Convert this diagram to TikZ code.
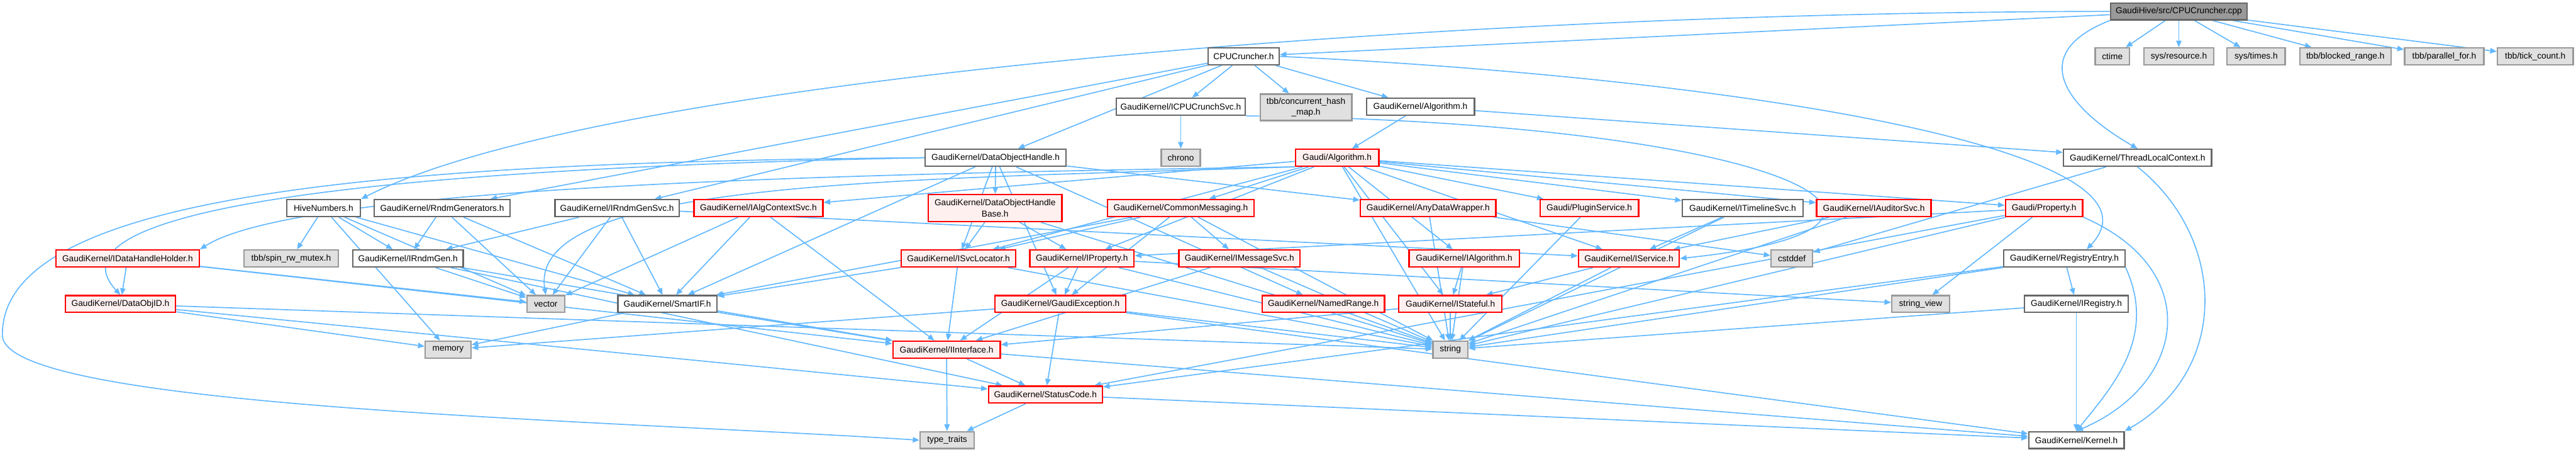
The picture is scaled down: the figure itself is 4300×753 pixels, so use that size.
\documentclass[tikz,border=0pt]{standalone}
\usepackage{fontspec}
\setmainfont{Liberation Sans}
\usetikzlibrary{arrows.meta,backgrounds}
\definecolor{edgeblue}{HTML}{63B8FF}
\definecolor{redline}{HTML}{FF0000}
\definecolor{redfill}{HTML}{FFF0F0}
\definecolor{sysfill}{HTML}{E0E0E0}
\definecolor{sysline}{HTML}{999999}
\definecolor{darkline}{HTML}{666666}

\tikzset{
  hdr/.style={draw=darkline, fill=white, line width=0.7pt, minimum height=0.28cm,
              inner sep=0pt, align=center, font=\fontsize{4.1pt}{5.1pt}\selectfont},
  root/.style={hdr, fill=sysline},
  trunc/.style={hdr, draw=redline, fill=redfill},
  sys/.style={hdr, draw=sysline, fill=sysfill},
  dep/.style={draw=edgeblue, line width=0.5pt, -{Triangle[length=1.1mm,width=0.9mm]}},
}

\begin{document}
\begin{tikzpicture}[x=0.01cm, y=-0.01cm]
  \useasboundingbox (0,0) rectangle (4300,753);

  % top
  \node[root, minimum width=2.28cm] (cpp) at (3637,19) {GaudiHive/src/CPUCruncher.cpp};

  % rank 1
  \node[hdr, minimum width=1.18cm] (cruncherh) at (2076,94) {CPUCruncher.h};
  \node[sys, minimum width=0.57cm] (ctime) at (3526,94) {ctime};
  \node[sys, minimum width=1.16cm] (sysres) at (3637,94) {sys/resource.h};
  \node[sys, minimum width=0.97cm] (systimes) at (3766,94) {sys/times.h};
  \node[sys, minimum width=1.52cm] (blocked) at (3915,94) {tbb/blocked\_range.h};
  \node[sys, minimum width=1.32cm] (parfor) at (4080,94) {tbb/parallel\_for.h};
  \node[sys, minimum width=1.26cm] (tick) at (4232,94) {tbb/tick\_count.h};

  % rank 2
  \node[hdr, minimum width=2.15cm] (crunchsvc) at (1971,178) {GaudiKernel/ICPUCrunchSvc.h};
  \node[sys, minimum width=1.53cm, minimum height=0.44cm] (hashmap) at (2180,179) {tbb/concurrent\_hash\\\_map.h};
  \node[hdr, minimum width=1.80cm] (gkalg) at (2371,178) {GaudiKernel/Algorithm.h};

  % rank 3
  \node[hdr, minimum width=2.35cm] (dohandle) at (1662,263) {GaudiKernel/DataObjectHandle.h};
  \node[sys, minimum width=0.65cm] (chrono) at (1971,263) {chrono};
  \node[trunc, minimum width=1.39cm] (galg) at (2232,263) {Gaudi/Algorithm.h};
  \node[hdr, minimum width=2.47cm] (tlc) at (3568,263) {GaudiKernel/ThreadLocalContext.h};

  % rank 4
  \node[hdr, minimum width=1.23cm] (hive) at (540,347) {HiveNumbers.h};
  \node[hdr, minimum width=2.26cm] (rndmgens) at (738,347) {GaudiKernel/RndmGenerators.h};
  \node[hdr, minimum width=2.07cm] (rndmgensvc) at (1030,347) {GaudiKernel/IRndmGenSvc.h};
  \node[trunc, minimum width=2.15cm] (algctx) at (1266,347) {GaudiKernel/IAlgContextSvc.h};
  \node[trunc, minimum width=2.23cm, minimum height=0.45cm] (dohbase) at (1661,347) {GaudiKernel/DataObjectHandle\\Base.h};
  \node[trunc, minimum width=2.45cm] (commsg) at (1971,347) {GaudiKernel/CommonMessaging.h};
  \node[trunc, minimum width=2.26cm] (anydata) at (2384,347) {GaudiKernel/AnyDataWrapper.h};
  \node[trunc, minimum width=1.64cm] (plugin) at (2653,347) {Gaudi/PluginService.h};
  \node[hdr, minimum width=2.01cm] (timeline) at (2909,347) {GaudiKernel/ITimelineSvc.h};
  \node[trunc, minimum width=1.91cm] (auditor) at (3128,347) {GaudiKernel/IAuditorSvc.h};
  \node[trunc, minimum width=1.29cm] (gprop) at (3412,347) {Gaudi/Property.h};

  % rank 5
  \node[trunc, minimum width=2.39cm] (dhholder) at (213,431) {GaudiKernel/IDataHandleHolder.h};
  \node[sys, minimum width=1.57cm] (spinmutex) at (486,431) {tbb/spin\_rw\_mutex.h};
  \node[hdr, minimum width=1.84cm] (rndmgen) at (681,431) {GaudiKernel/IRndmGen.h};
  \node[trunc, minimum width=1.91cm] (svcloc) at (1600,431) {GaudiKernel/ISvcLocator.h};
  \node[trunc, minimum width=1.74cm] (iprop) at (1806,431) {GaudiKernel/IProperty.h};
  \node[trunc, minimum width=2.02cm] (msgsvc) at (2069,431) {GaudiKernel/IMessageSvc.h};
  \node[trunc, minimum width=1.84cm] (ialg) at (2444,431) {GaudiKernel/IAlgorithm.h};
  \node[trunc, minimum width=1.68cm] (isvc) at (2719,431) {GaudiKernel/IService.h};
  \node[sys, minimum width=0.69cm] (cstddef) at (2991,431) {cstddef};
  \node[hdr, minimum width=2.02cm] (regentry) at (3446,431) {GaudiKernel/RegistryEntry.h};

  % rank 6
  \node[trunc, minimum width=1.84cm] (objid) at (201,507) {GaudiKernel/DataObjID.h};
  \node[sys, minimum width=0.63cm] (vector) at (911,507) {vector};
  \node[hdr, minimum width=1.65cm] (smartif) at (1114,507) {GaudiKernel/SmartIF.h};
  \node[trunc, minimum width=2.18cm] (gexc) at (1770,507) {GaudiKernel/GaudiException.h};
  \node[trunc, minimum width=2.04cm] (namedrange) at (2209,507) {GaudiKernel/NamedRange.h};
  \node[trunc, minimum width=1.72cm] (stateful) at (2421,507) {GaudiKernel/IStateful.h};
  \node[sys, minimum width=0.96cm] (strview) at (3206,507) {string\_view};
  \node[hdr, minimum width=1.73cm] (iregistry) at (3466,507) {GaudiKernel/IRegistry.h};

  % rank 7
  \node[sys, minimum width=0.76cm] (memory) at (748,583) {memory};
  \node[trunc, minimum width=1.79cm] (iface) at (1580,583) {GaudiKernel/IInterface.h};
  \node[sys, minimum width=0.58cm] (string) at (2421,583) {string};

  % rank 8
  \node[trunc, minimum width=1.90cm] (statuscode) at (1745,658) {GaudiKernel/StatusCode.h};

  % rank 9
  \node[sys, minimum width=0.90cm] (typetraits) at (1581,734) {type\_traits};
  \node[hdr, minimum width=1.59cm] (kernel) at (3466,734) {GaudiKernel/Kernel.h};

  \begin{scope}[on background layer]
  % includes, plain
  \foreach \s/\t in {cpp/cruncherh, cpp/ctime, cpp/sysres, cpp/systimes,
      cpp/blocked, cpp/parfor, cpp/tick,
      cruncherh/crunchsvc, cruncherh/hashmap, cruncherh/gkalg, cruncherh/dohandle,
      cruncherh/rndmgensvc, cruncherh/rndmgens,
      gkalg/galg, gkalg/tlc, crunchsvc/chrono, tlc/cstddef,
      dohandle/dohbase, dohandle/anydata,
      dohandle/svcloc, dohandle/gexc, dohandle/namedrange, dohandle/smartif,
      galg/algctx, galg/commsg, galg/plugin, galg/timeline,
      galg/auditor, galg/gprop, galg/ialg, galg/stateful, galg/isvc, galg/svcloc,
      galg/iprop, galg/string,
      hive/spinmutex, hive/rndmgen, hive/vector, hive/memory, hive/smartif,
      rndmgens/rndmgen, rndmgens/vector, rndmgens/smartif,
      rndmgensvc/rndmgen, rndmgensvc/vector, rndmgensvc/smartif, rndmgensvc/isvc,
      algctx/vector, algctx/smartif, algctx/iface,
      dohbase/svcloc, dohbase/iprop, dohbase/string,
      commsg/svcloc, commsg/smartif, commsg/msgsvc, commsg/gexc, commsg/string,
      anydata/cstddef, anydata/string,
      dhholder/objid, dhholder/vector, dhholder/iface,
      rndmgen/vector, rndmgen/iface, rndmgen/statuscode,
      objid/string, objid/memory, objid/statuscode,
      smartif/iface, smartif/memory,
      svcloc/iface, svcloc/smartif, svcloc/string,
      iprop/iface, iprop/gexc, iprop/string, iprop/strview,
      msgsvc/iface, msgsvc/string,
      gexc/statuscode, gexc/string, gexc/memory, gexc/kernel,
      namedrange/string, ialg/stateful, ialg/string, isvc/stateful, isvc/string,
      stateful/iface, stateful/string, timeline/isvc, timeline/string,
      auditor/isvc, auditor/string, plugin/string,
      gprop/iprop, gprop/string, gprop/strview, gprop/statuscode,
      regentry/iregistry, regentry/string, regentry/statuscode,
      iregistry/kernel, iregistry/string,
      iface/statuscode, iface/typetraits, iface/kernel,
      statuscode/typetraits, statuscode/kernel}
    \draw[dep] (\s) -- (\t);

  % includes, routed
  \draw[dep] (cpp.west) .. controls (2400,20) and (1000,130) .. (hive.north east);
  \draw[dep] (cpp.south west) .. controls (3380,90) and (3450,180) .. (tlc.north);
  \draw[dep] (cruncherh.east) .. controls (2900,130) and (3640,250) .. ([xshift=-0.65cm]regentry.north east);
  \draw[dep] (crunchsvc.south east) .. controls (3000,205) and (3300,380) .. (isvc.east);
  \draw[dep] (tlc.south) .. controls (3720,400) and (3720,620) .. (kernel.north east);
  \draw[dep] (regentry.south east) .. controls (3600,560) and (3530,640) .. (kernel.north);
  \draw[dep] (gprop.south east) .. controls (3680,450) and (3650,640) .. (kernel.north);
  \draw[dep] (dohandle.west) .. controls (600,270) and (0,330) .. (4,560)
             .. controls (10,680) and (1000,700) .. (typetraits.west);
  \draw[dep] (dohandle.west) .. controls (700,280) and (60,340) .. (objid.north);
  \draw[dep] (galg.south west) .. controls (1400,290) and (500,310) .. (dhholder.north east);
  \draw[dep] (galg.south west) .. controls (1500,300) and (880,300) .. (vector.north);
  \end{scope}
\end{tikzpicture}
\end{document}
